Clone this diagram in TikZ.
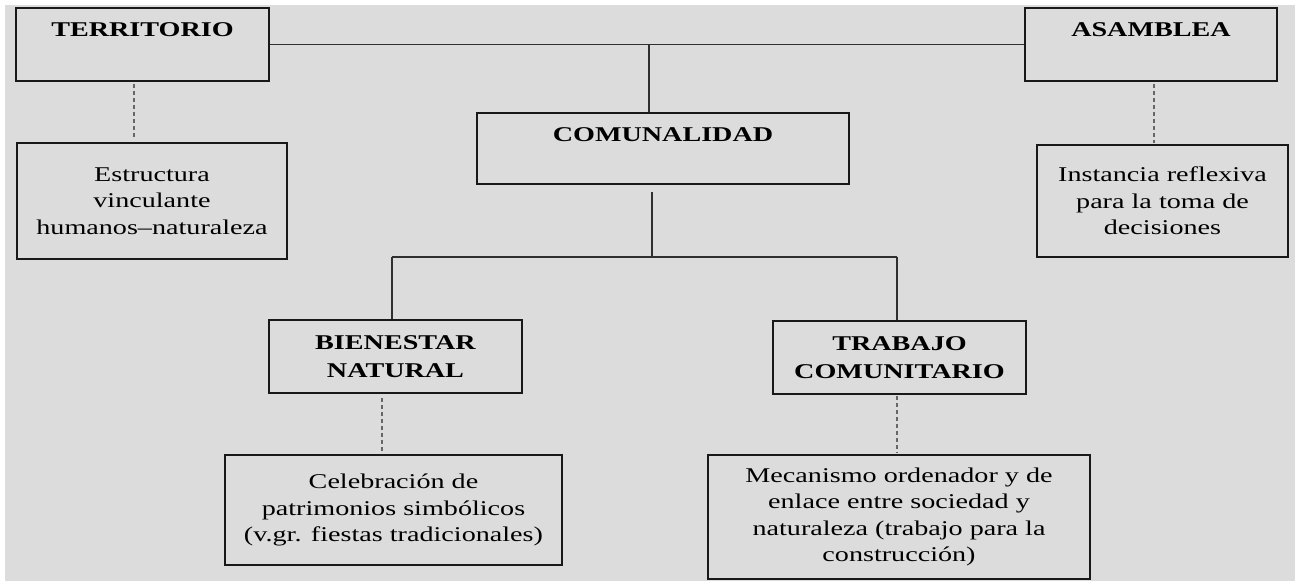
\documentclass[tikz,border=0pt]{standalone}
\usepackage{fontspec}
\setmainfont{Liberation Serif}[FakeStretch=1.34]
\usetikzlibrary{calc}
\definecolor{bggray}{RGB}{220,220,220}
\definecolor{ink}{RGB}{25,25,25}
\begin{document}
\begin{tikzpicture}[x=1pt,y=-1pt,
  box/.style={draw=ink, line width=1.5pt, inner sep=0pt, align=center,
    font=\fontsize{21}{26.5}\selectfont, text=black},
  ttl/.style={inner sep=0pt, align=center, text=black,
    font=\fontsize{21}{28}\selectfont\bfseries},
  conn/.style={draw=ink!90, line width=1.1pt},
  dsh/.style={draw=black!60, line width=1.3pt, dash pattern=on 4pt off 3pt}]
\useasboundingbox (0,0) rectangle (1295,581);
\fill[white] (0,0) rectangle (1295,581);
\fill[bggray] (5,5) rectangle (1295,581);
% top row
\node[box, minimum width=253, minimum height=73] (terr) at (142.5,44.5) {};
\node[ttl] (terrt) at ($(terr.north)+(0,22)$) {TERRITORIO};
\node[box, minimum width=252, minimum height=73] (asam) at (1151,44.5) {};
\node[ttl] (asamt) at ($(asam.north)+(0,22)$) {ASAMBLEA};
\node[box, minimum width=372, minimum height=71] (com) at (663,148.5) {};
\node[ttl] (comt) at ($(com.north)+(0,22)$) {COMUNALIDAD};
% description boxes
\node[box, minimum width=270, minimum height=116] (estr) at (152,201)
  {Estructura\\vinculante\\humanos--naturaleza};
\node[box, minimum width=251, minimum height=112] (inst) at (1162.5,201)
  {Instancia reflexiva\\para la toma de\\decisiones};
% second level
\node[box, minimum width=253, minimum height=73, font=\fontsize{21}{28}\selectfont\bfseries] (bien) at (395.5,356.5)
  {BIENESTAR\\NATURAL};
\node[box, minimum width=253, minimum height=73, font=\fontsize{21}{28}\selectfont\bfseries] (trab) at (899.5,357.5)
  {TRABAJO\\COMUNITARIO};
\node[box, minimum width=337, minimum height=110] (cel) at (393.5,510)
  {Celebración de\\patrimonios simbólicos\\(v.gr. fiestas tradicionales)};
\node[box, minimum width=382, minimum height=124] (mec) at (899,517)
  {Mecanismo ordenador y de\\enlace entre sociedad y\\naturaleza (trabajo para la\\construcción)};
% solid connectors
\draw[conn] (terr.east) -- (asam.west);
\coordinate (jt) at (649,44.5);
\draw[conn] (jt) -- (jt |- com.north);
\coordinate (cb) at (652,192);
\coordinate (hb) at (652,257);
\coordinate (hl) at (392,257);
\coordinate (hr) at (897,257);
\draw[conn] (cb) -- (hb);
\draw[conn] (hl) -- (hr);
\draw[conn] (hl) -- (hl |- bien.north);
\draw[conn] (hr) -- (hr |- trab.north);
% dashed connectors
\coordinate (d1) at (134,0);
\coordinate (d2) at (1154,0);
\coordinate (d3) at (382,0);
\coordinate (d4) at (897,0);
\draw[dsh] ($(terr.south -| d1)+(0,2)$) -- ($(estr.north -| d1)+(0,-3)$);
\draw[dsh] ($(asam.south -| d2)+(0,2)$) -- ($(inst.north -| d2)+(0,-1)$);
\draw[dsh] ($(bien.south -| d3)+(0,4)$) -- ($(cel.north -| d3)+(0,-2)$);
\draw[dsh] ($(trab.south -| d4)+(0,1)$) -- ($(mec.north -| d4)+(0,-2)$);
\end{tikzpicture}
\end{document}
